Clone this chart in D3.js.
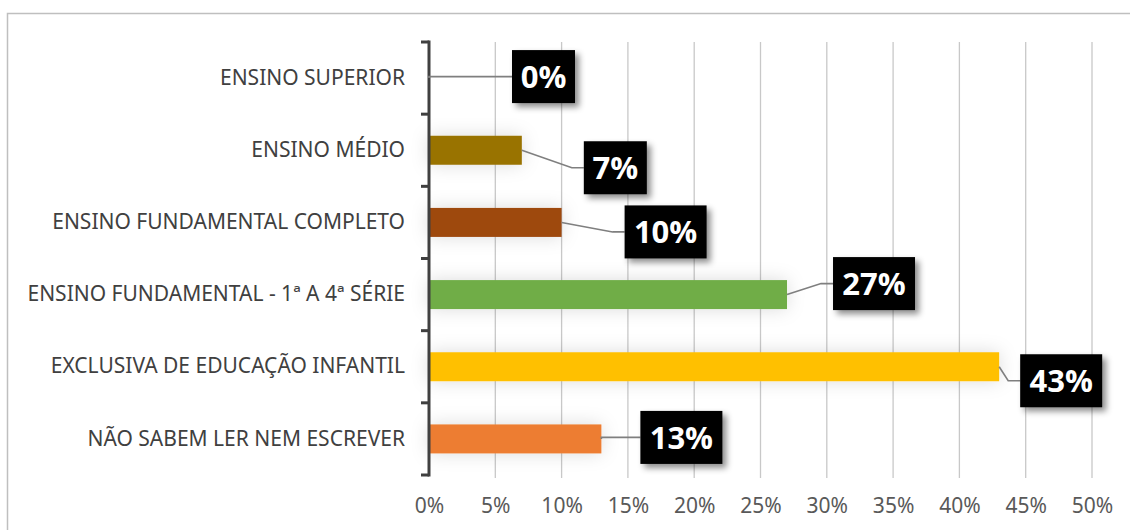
<!DOCTYPE html>
<html>
<head>
<meta charset="utf-8">
<script src="https://cdn.jsdelivr.net/npm/d3@7"></script>
<style>
  html, body { margin: 0; padding: 0; background: #fff; }
  svg { display: block; }
</style>
</head>
<body>
<svg id="chart" width="1130" height="530"></svg>
<script>
// Education level, share of respondents (%)
const categories = [
  "ENSINO SUPERIOR",
  "ENSINO MÉDIO",
  "ENSINO FUNDAMENTAL COMPLETO",
  "ENSINO FUNDAMENTAL - 1ª A 4ª SÉRIE",
  "EXCLUSIVA DE EDUCAÇÃO INFANTIL",
  "NÃO SABEM LER NEM ESCREVER"
];
const values = [0, 7, 10, 27, 43, 13];
const colors = ["#4472c4", "#997300", "#9e480e", "#70ad47", "#ffc000", "#ed7d31"];
const xTicks = [0, 5, 10, 15, 20, 25, 30, 35, 40, 45, 50];

// Callout placement: box left edge past the bar end, box centre shift from band centre (px)
const calloutDx = [83, 62, 63, 46, 21, 39];
const calloutDy = [-1.5, 17.5, 9.5, -11, 14, -1.5];

const svg = d3.select("#chart");
const W = 1130, H = 530;
const m = { left: 429, right: W - 1092, top: 42, bottom: H - 475 };
const labelFont = "'Noto Sans', 'Open Sans', sans-serif";

const defs = svg.append("defs");
const barShadow = defs.append("filter").attr("id", "barShadow")
  .attr("x", "-20%").attr("y", "-100%").attr("width", "140%").attr("height", "300%");
barShadow.append("feDropShadow").attr("dx", 0).attr("dy", 0)
  .attr("stdDeviation", 9).attr("flood-color", "#000").attr("flood-opacity", 0.14);
const boxShadow = defs.append("filter").attr("id", "boxShadow")
  .attr("x", "-20%").attr("y", "-30%").attr("width", "150%").attr("height", "170%");
boxShadow.append("feDropShadow").attr("dx", 4).attr("dy", 4)
  .attr("stdDeviation", 3).attr("flood-color", "#000").attr("flood-opacity", 0.45);

// Chart-area frame (only top and left edges fall inside the page)
svg.append("path")
  .attr("d", `M7.5,${H} V13.5 H${W}`)
  .attr("fill", "none").attr("stroke", "#bfbfbf").attr("stroke-width", 1.5);

const x = d3.scaleLinear().domain([0, 50]).range([m.left, W - m.right]);
const yb = d3.scaleBand().domain(categories).range([m.top, H - m.bottom]);

// Vertical gridlines
svg.append("g").selectAll("line").data(xTicks.filter(d => d > 0)).join("line")
  .attr("x1", d => x(d)).attr("x2", d => x(d))
  .attr("y1", m.top).attr("y2", H - m.bottom + 3)
  .attr("stroke", "#c8c8c8").attr("stroke-width", 1.3);

// X tick labels
const xAxis = d3.axisBottom(x).tickValues(xTicks).tickFormat(d => d + "%").tickSize(0).tickPadding(0);
const gx = svg.append("g").attr("transform", `translate(0,${H - m.bottom + 31})`).call(xAxis);
gx.select(".domain").remove();
gx.selectAll("text")
  .attr("dy", "0.35em")
  .attr("font-family", labelFont)
  .attr("font-size", 21).attr("fill", "#595959");

// Bars
svg.append("g").selectAll("rect").data(values).join("rect")
  .attr("x", x(0))
  .attr("y", (d, i) => yb(categories[i]) + yb.bandwidth() / 2 - 14.5)
  .attr("width", d => x(d) - x(0))
  .attr("height", 29)
  .attr("fill", (d, i) => colors[i])
  .attr("filter", "url(#barShadow)");

// Category axis
const yAxis = d3.axisLeft(yb).tickSize(0).tickPadding(24);
const gy = svg.append("g").attr("transform", `translate(${m.left},0)`).call(yAxis);
gy.select(".domain").remove();
gy.selectAll("text")
  .attr("font-family", labelFont)
  .attr("font-size", 21).attr("fill", "#404040");
const bounds = yb.domain().map(c => yb(c)).concat([H - m.bottom]);
svg.append("line")
  .attr("x1", m.left).attr("x2", m.left)
  .attr("y1", m.top - 1.5).attr("y2", H - m.bottom + 1.5)
  .attr("stroke", "#404040").attr("stroke-width", 3);
svg.append("g").selectAll("line").data(bounds).join("line")
  .attr("x1", m.left - 8).attr("x2", m.left)
  .attr("y1", d => d).attr("y2", d => d)
  .attr("stroke", "#404040").attr("stroke-width", 3);

// Callouts: leader line + black box + value text
const callouts = svg.append("g");
values.forEach((v, i) => {
  const bandMid = yb(categories[i]) + yb.bandwidth() / 2;
  const x0 = x(v);
  const bx = x0 + calloutDx[i];
  const by = bandMid + calloutDy[i];
  const g = callouts.append("g");

  // leader line: diagonal from bar end, short horizontal run into the box
  const elbow = Math.abs(by - bandMid) > 4 ? bx - 12 : x0;
  g.append("path")
    .attr("d", `M${x0},${bandMid} L${elbow},${by} L${bx},${by}`)
    .attr("fill", "none").attr("stroke", "#7f7f7f").attr("stroke-width", 1.6);

  const rect = g.append("rect")
    .attr("y", by - 26.5).attr("height", 53)
    .attr("x", bx)
    .attr("fill", "#000").attr("filter", "url(#boxShadow)");
  const t = g.append("text")
    .attr("x", bx).attr("y", by)
    .attr("dy", "0.36em")
    .attr("font-family", "'Open Sans', 'Noto Sans', sans-serif")
    .attr("font-weight", 700).attr("font-size", 31)
    .attr("fill", "#fff")
    .text(v + "%");
  const tw = t.node().getComputedTextLength();
  const w = v >= 10 ? 82 : 63;
  rect.attr("width", w);
  t.attr("x", bx + (w - tw) / 2);
});
</script>
</body>
</html>
